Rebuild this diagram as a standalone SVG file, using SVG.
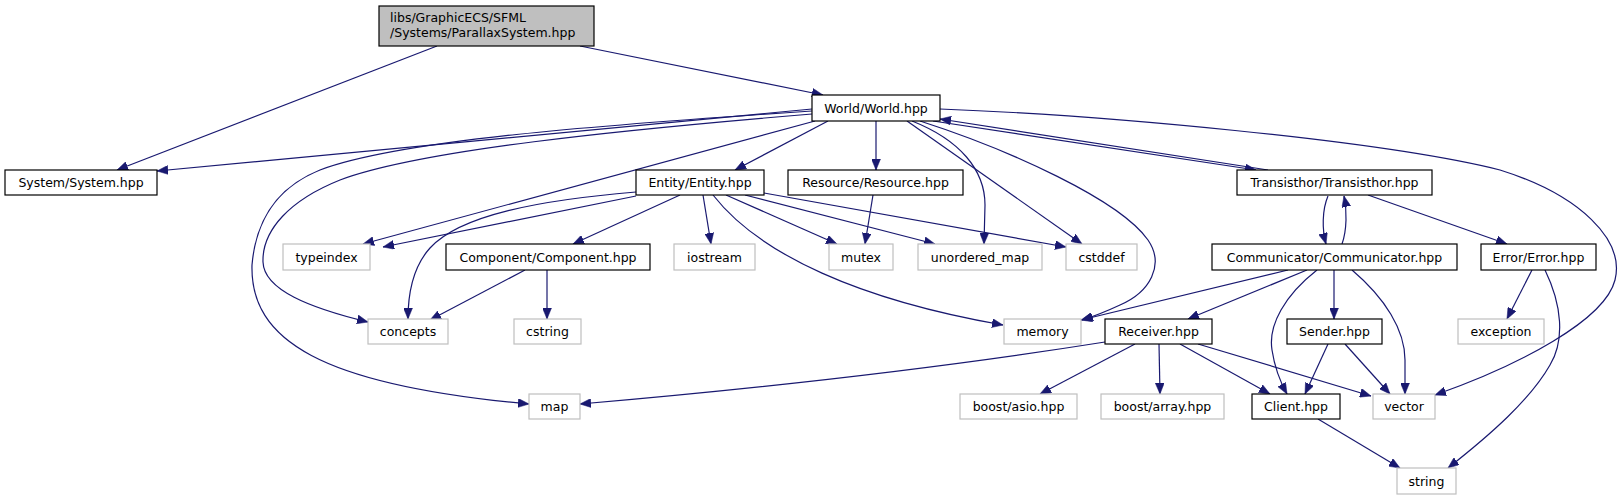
<svg xmlns="http://www.w3.org/2000/svg" width="1623" height="500" viewBox="0 0 1623 500">
<style>
.n rect{fill:#fff;stroke:#000;stroke-width:1.2}
.x rect{fill:#fff;stroke:#bfbfbf;stroke-width:1.2}
.r rect{fill:#bfbfbf;stroke:#000;stroke-width:1.2}
text{font-family:"DejaVu Sans","Liberation Sans",sans-serif;font-size:12.5px;fill:#000;text-anchor:middle}
.e path{fill:none;stroke:#191970;stroke-width:1.2;marker-end:url(#a)}
</style>
<defs>
<marker id="a" markerUnits="userSpaceOnUse" markerWidth="11" markerHeight="9" viewBox="0 0 11 9" refX="11" refY="4.5" orient="auto">
<path d="M0,0 L11,4.5 L0,9 z" fill="#191970" stroke="#191970" stroke-width="0.5"/>
</marker>
</defs>
<rect width="1623" height="500" fill="#fff"/>
<g class="e" id="edges">
<path d="M437,46 L117,170"/>
<path d="M580,46 L823,95"/>
<path d="M812,109 L157,171"/>
<path d="M812,111 C 600,125 400,140 320,170 C 270,190 255,230 252,265 C 250,340 320,385 529,404"/>
<path d="M812,114 C 620,130 420,150 340,180 C 290,200 262,230 263,262 C 264,290 310,308 368,322"/>
<path d="M815,121 L363,244"/>
<path d="M828,121 L735,170"/>
<path d="M876,121 L876,170"/>
<path d="M912,121 C 960,140 985,170 985,205 L984,244"/>
<path d="M907,121 L1082,244"/>
<path d="M920,121 C 1010,150 1120,200 1148,240 C 1165,265 1150,292 1120,305 C 1105,312 1095,316 1082,320"/>
<path d="M933,121 L1256,170"/>
<path d="M1268,170 L940,119"/>
<path d="M940,109 C 1100,115 1380,140 1500,170 C 1580,195 1625,240 1615,280 C 1605,320 1520,365 1435,395"/>
<path d="M636,196 L383,247"/>
<path d="M636,192 C 540,200 460,215 430,248 C 412,268 408,295 408,319"/>
<path d="M680,195 L573,244"/>
<path d="M703,195 L711,244"/>
<path d="M713,195 C 760,255 860,300 1003,325"/>
<path d="M726,195 L837,244"/>
<path d="M745,195 L935,244"/>
<path d="M764,193 L1066,247"/>
<path d="M873,195 L865,244"/>
<path d="M525,270 L430,320"/>
<path d="M547,270 L547,319"/>
<path d="M1328,196 C 1322,210 1322,230 1326,244"/>
<path d="M1342,244 C 1347,230 1347,210 1344,196"/>
<path d="M1368,195 L1507,244"/>
<path d="M1288,270 L1081,320"/>
<path d="M1307,270 L1188,319"/>
<path d="M1317,270 C 1285,295 1268,325 1272,350 C 1275,370 1282,385 1287,394"/>
<path d="M1334,270 L1334,319"/>
<path d="M1352,270 C 1385,298 1405,330 1405,360 L1405,394"/>
<path d="M1532,270 L1507,319"/>
<path d="M1545,270 C 1562,305 1565,340 1550,365 C 1530,400 1490,435 1448,468"/>
<path d="M1105,342 C 960,365 800,385 580,404"/>
<path d="M1135,344 L1040,394"/>
<path d="M1159,344 L1160,394"/>
<path d="M1180,344 L1270,394"/>
<path d="M1198,344 L1371,396"/>
<path d="M1328,344 L1305,394"/>
<path d="M1345,344 L1390,394"/>
<path d="M1318,419 L1400,468"/>
</g>
<g id="parallax" class="r"><rect x="379" y="6" width="215" height="40"/><text x="390" y="21.5" style="text-anchor:start">libs/GraphicECS/SFML</text><text x="390" y="36.5" style="text-anchor:start">/Systems/ParallaxSystem.hpp</text></g>
<g id="world" class="n"><rect x="812" y="95" width="128" height="26"/><text x="876" y="112.5">World/World.hpp</text></g>
<g id="system" class="n"><rect x="5" y="170" width="152" height="25"/><text x="81" y="187">System/System.hpp</text></g>
<g id="entity" class="n"><rect x="636" y="170" width="128" height="25"/><text x="700" y="187">Entity/Entity.hpp</text></g>
<g id="resource" class="n"><rect x="788" y="170" width="175" height="25"/><text x="875.5" y="187">Resource/Resource.hpp</text></g>
<g id="transisthor" class="n"><rect x="1237" y="170" width="195" height="25"/><text x="1334.5" y="187">Transisthor/Transisthor.hpp</text></g>
<g id="typeindex" class="x"><rect x="283" y="244" width="87" height="26"/><text x="326.5" y="261.5">typeindex</text></g>
<g id="component" class="n"><rect x="446" y="244" width="204" height="26"/><text x="548" y="261.5">Component/Component.hpp</text></g>
<g id="iostream" class="x"><rect x="674" y="244" width="81" height="26"/><text x="714.5" y="261.5">iostream</text></g>
<g id="mutex" class="x"><rect x="829" y="244" width="64" height="26"/><text x="861" y="261.5">mutex</text></g>
<g id="unordered_map" class="x"><rect x="918" y="244" width="124" height="26"/><text x="980" y="261.5">unordered_map</text></g>
<g id="cstddef" class="x"><rect x="1066" y="244" width="71" height="26"/><text x="1101.5" y="261.5">cstddef</text></g>
<g id="communicator" class="n"><rect x="1212" y="244" width="245" height="26"/><text x="1334.5" y="261.5">Communicator/Communicator.hpp</text></g>
<g id="error" class="n"><rect x="1481" y="244" width="115" height="26"/><text x="1538.5" y="261.5">Error/Error.hpp</text></g>
<g id="concepts" class="x"><rect x="368" y="319" width="80" height="25"/><text x="408" y="336">concepts</text></g>
<g id="cstring" class="x"><rect x="514" y="319" width="67" height="25"/><text x="547.5" y="336">cstring</text></g>
<g id="memory" class="x"><rect x="1004" y="319" width="77" height="25"/><text x="1042.5" y="336">memory</text></g>
<g id="receiver" class="n"><rect x="1105" y="319" width="107" height="25"/><text x="1158.5" y="336">Receiver.hpp</text></g>
<g id="sender" class="n"><rect x="1287" y="319" width="95" height="25"/><text x="1334.5" y="336">Sender.hpp</text></g>
<g id="exception" class="x"><rect x="1458" y="319" width="86" height="25"/><text x="1501" y="336">exception</text></g>
<g id="map" class="x"><rect x="529" y="394" width="51" height="25"/><text x="554.5" y="411">map</text></g>
<g id="boost_asio" class="x"><rect x="960" y="394" width="117" height="25"/><text x="1018.5" y="411">boost/asio.hpp</text></g>
<g id="boost_array" class="x"><rect x="1101" y="394" width="123" height="25"/><text x="1162.5" y="411">boost/array.hpp</text></g>
<g id="client" class="n"><rect x="1252" y="394" width="88" height="25"/><text x="1296" y="411">Client.hpp</text></g>
<g id="vector" class="x"><rect x="1373" y="394" width="62" height="25"/><text x="1404" y="411">vector</text></g>
<g id="string" class="x"><rect x="1397" y="468" width="59" height="26"/><text x="1426.5" y="485.5">string</text></g>
</svg>
